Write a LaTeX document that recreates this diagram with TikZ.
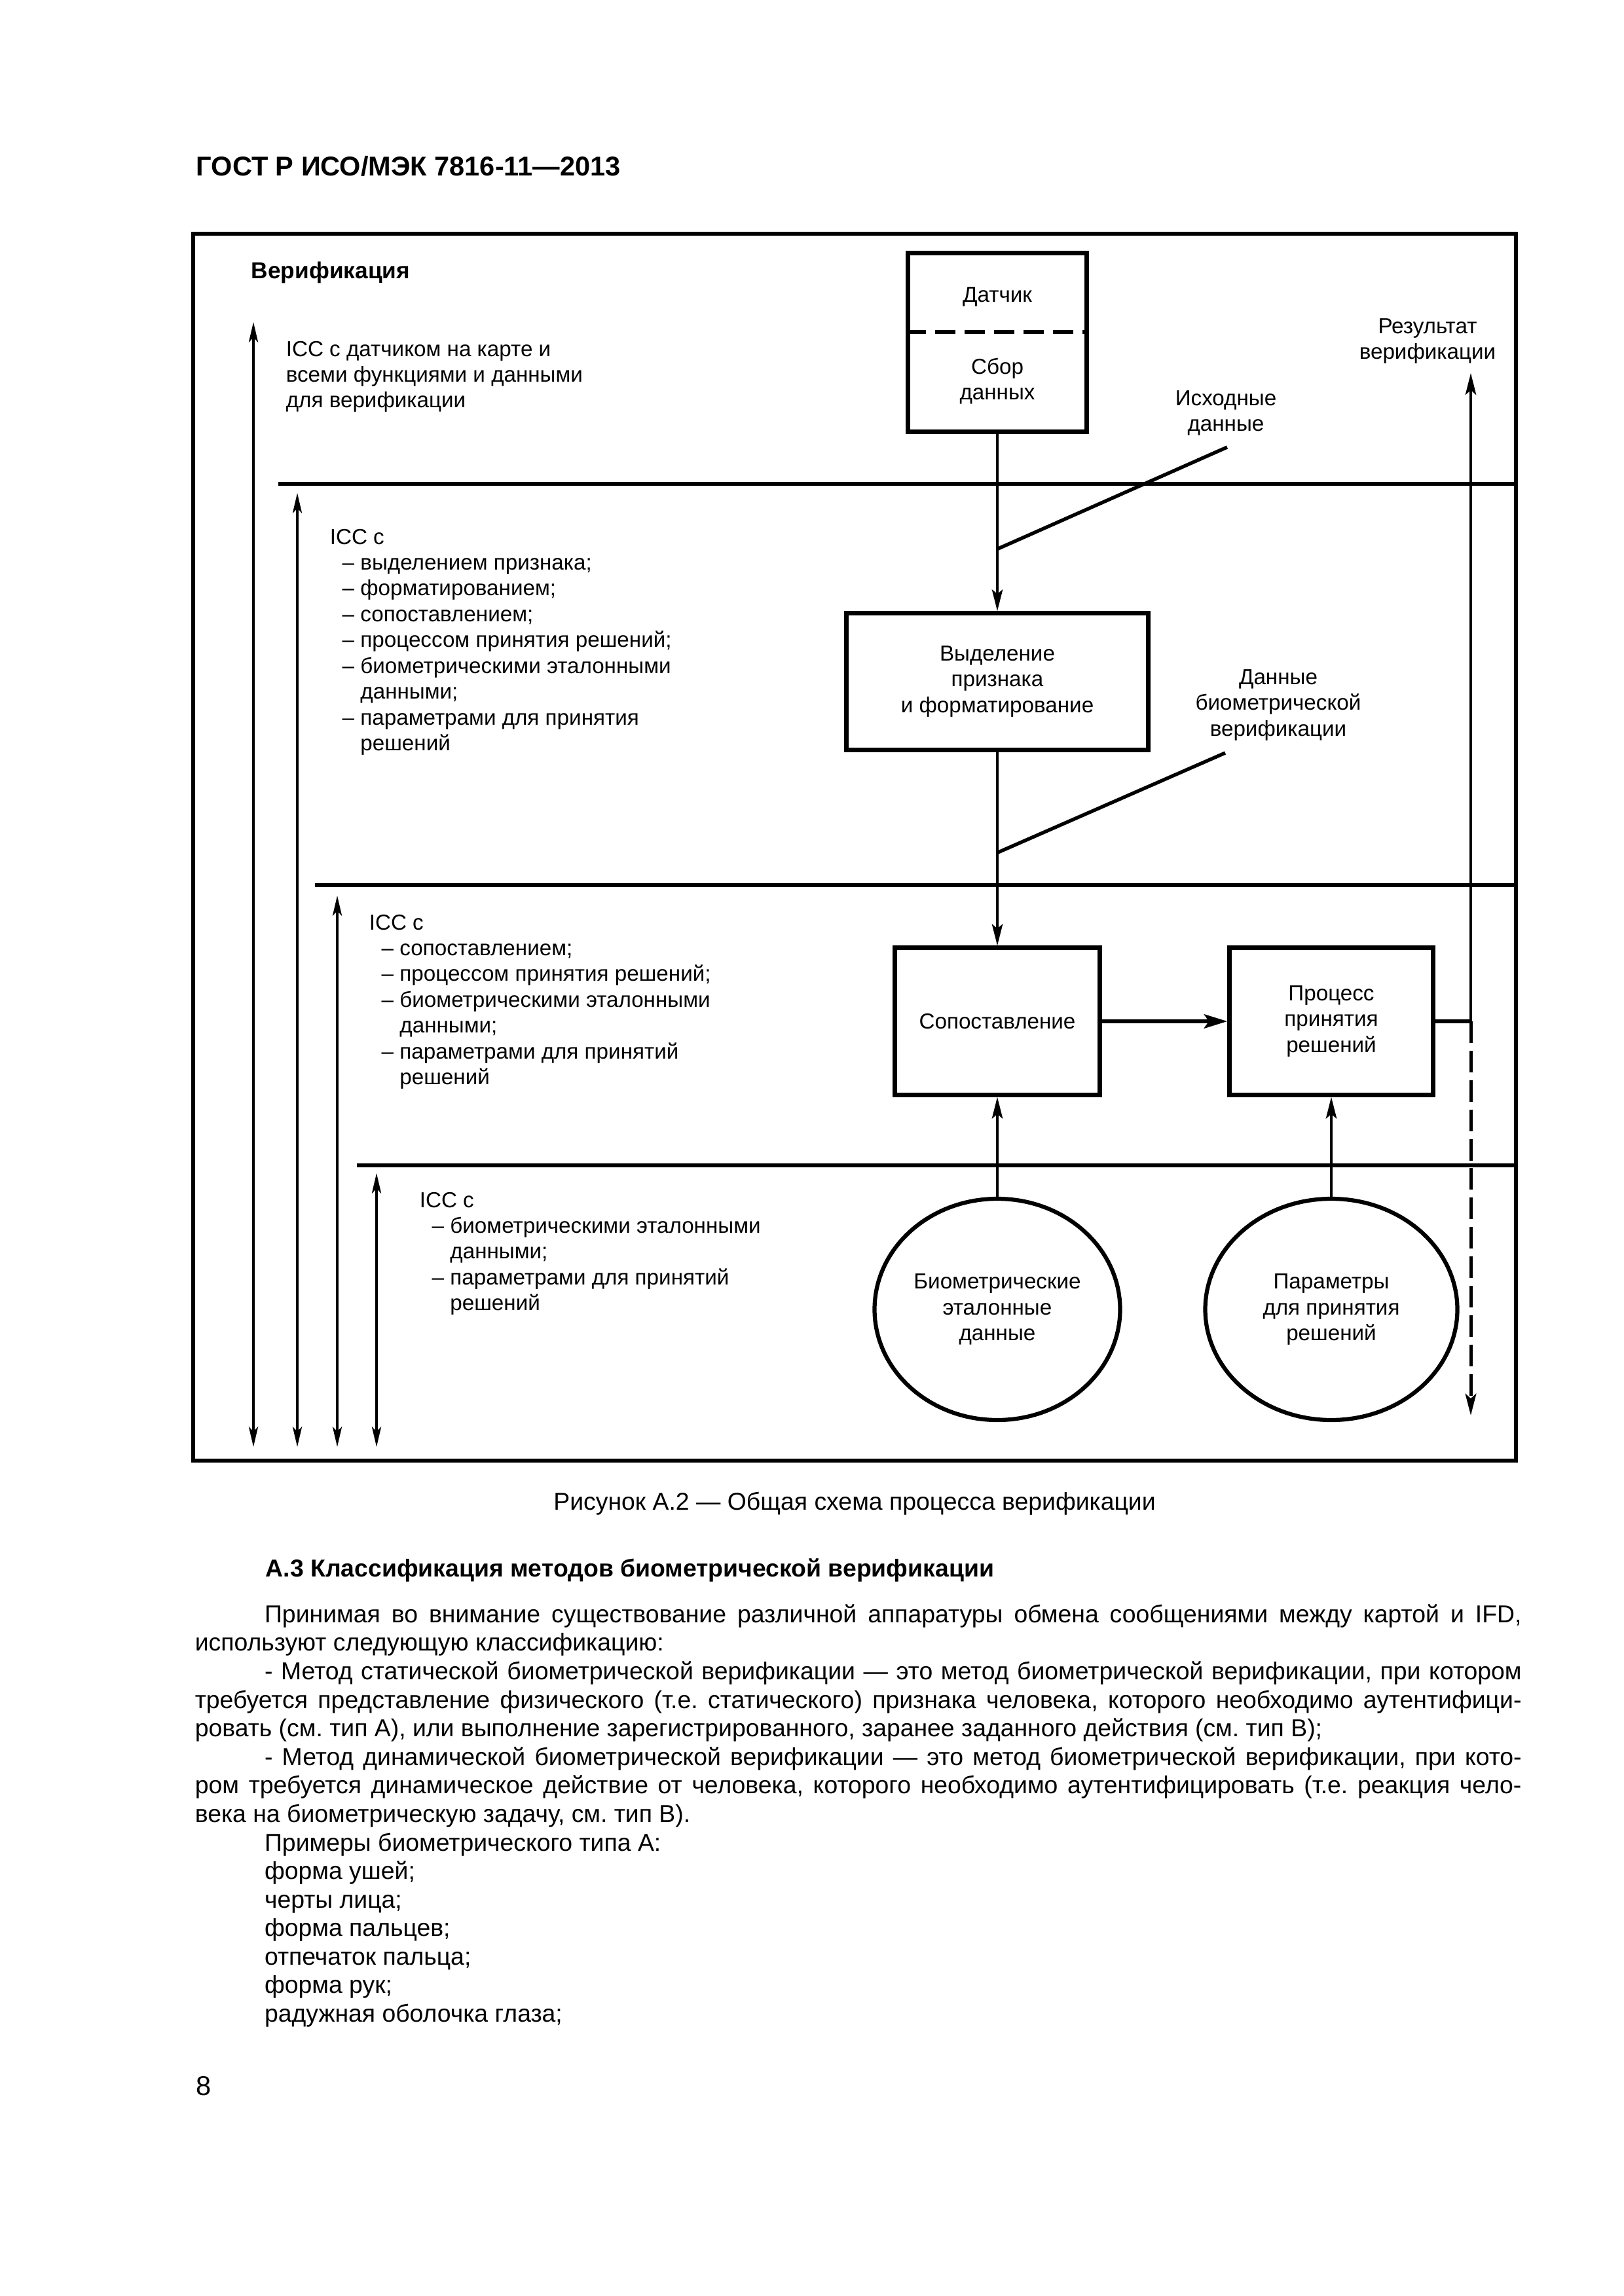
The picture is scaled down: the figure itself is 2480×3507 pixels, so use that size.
\documentclass[tikz,border=0pt]{standalone}
\usepackage{fontspec}
\setmainfont{Liberation Sans}
\usetikzlibrary{arrows.meta,calc,shapes.geometric}
\frenchspacing

% one unit = one pixel of the 300 dpi page
\def\pxu{0.0846667mm}

\tikzset{
  diag/.style={font=\fontsize{8}{9.5}\selectfont},
  box/.style={draw, line width=1.5pt, inner sep=0pt, align=center, diag},
  store/.style={ellipse, draw, line width=1.5pt, inner sep=0pt, align=center, diag},
  lbl/.style={align=center, inner sep=0pt, diag},
  side/.style={align=left, inner sep=0pt, anchor=north west, diag,
    execute at begin node=\strut},
  flow/.style={-{Stealth[length=2.8mm,width=1.4mm,inset=0.6mm]}, line width=0.8pt},
  span/.style={{Stealth[length=2.6mm,width=1.2mm,inset=0.6mm]}-{Stealth[length=2.6mm,width=1.2mm,inset=0.6mm]},
    line width=0.8pt},
  sep/.style={line width=1.6pt},
  feed/.style={line width=1.3pt},
  body/.style={font=\fontsize{9}{10.5}\selectfont, inner sep=0pt},
}

\begin{document}
\begin{tikzpicture}[x=\pxu, y=-\pxu]
  \useasboundingbox (0,0) rectangle (2480,3507);

  \node[body, font=\fontsize{10}{12}\selectfont\bfseries, anchor=base west] (gost) at (299,268)
    {ГОСТ Р ИСО/МЭК 7816-11—2013};

  % frame and levels
  \draw[sep] (295,357) rectangle (2315,2231);
  \draw[sep] (425,739) -- (2315,739);
  \draw[sep] (481,1352) -- (2315,1352);
  \draw[sep] (545,1780) -- (2315,1780);

  \node[diag, font=\fontsize{8.5}{9.5}\selectfont\bfseries, inner sep=0pt, anchor=base west] (title) at (383,425)
    {Верификация};

  % boxes
  \node[box, minimum width={273*\pxu}, minimum height={273*\pxu}] (sensor) at (1523,523) {};
  \draw[line width=1.5pt, dash pattern=on 2.6mm off 1.2mm] (sensor.west |- 0,507) -- (sensor.east |- 0,507);
  \node[lbl] (sensorname) at (1523,453) {Датчик};
  \node[lbl] (collect) at (1523,582) {Сбор\\данных};

  \node[box, minimum width={461*\pxu}, minimum height={209*\pxu}] (feat) at (1523,1041)
    {Выделение\\признака\\и форматирование};
  \node[box, minimum width={313*\pxu}, minimum height={225*\pxu}] (match) at (1523,1560)
    {Сопоставление};
  \node[box, minimum width={311*\pxu}, minimum height={225*\pxu}] (decide) at (2033,1560)
    {Процесс\\принятия\\решений};
  \node[store, minimum width={375*\pxu}, minimum height={338*\pxu}] (bioref) at (1523,2000)
    {Биометрические\\эталонные\\данные};
  \node[store, minimum width={385*\pxu}, minimum height={338*\pxu}] (params) at (2033,2000)
    {Параметры\\для принятия\\решений};

  % labels
  \node[lbl] (rawlbl) at (1872,631) {Исходные\\данные};
  \node[lbl] (verlbl) at (1952,1077) {Данные\\биометрической\\верификации};
  \node[lbl] (result) at (2180,521) {Результат\\верификации};

  \coordinate (rawtip) at (1874,683);
  \coordinate (rawjoin) at ($(sensor.south)!0.65!(feat.north)$);
  \coordinate (vertip) at (1871,1150);
  \coordinate (verjoin) at ($(feat.south)!0.52!(match.north)$);
  \coordinate (outjoin) at (2246,1560);
  \coordinate (resulttip) at (2246,570);
  \coordinate (dropend) at (2246,2162);

  % connectors
  \draw[flow] (sensor.south) -- (feat.north);
  \draw[flow] (feat.south) -- (match.north);
  \draw[feed] (rawtip) -- (rawjoin);
  \draw[feed] (vertip) -- (verjoin);
  \draw[-{Stealth[length=3mm,width=1.8mm,inset=0.6mm]}, line width=1.5pt] (match.east) -- (decide.west);
  \draw[line width=1.5pt] (decide.east) -- (outjoin);
  \draw[flow] (outjoin) -- (resulttip);
  \draw[flow, line width=1.2pt, dash pattern=on 2.8mm off 1mm] (outjoin) -- (dropend);
  \draw[flow] (bioref.north) -- (match.south);
  \draw[flow] (params.north) -- (decide.south);

  % scope arrows
  \foreach \x/\top in {387/492, 454/753, 515/1368, 575/1792}
    \draw[span] (\x,\top) -- (\x,2210);

  % scope texts
  \node[side] (lvlone) at (436,520)
    {ICC с датчиком на карте и\\всеми функциями и данными\\для верификации};
  \node[side] (lvltwo) at (503,807)
    {ICC с\\
     \hspace*{1.6mm}– выделением признака;\\
     \hspace*{1.6mm}– форматированием;\\
     \hspace*{1.6mm}– сопоставлением;\\
     \hspace*{1.6mm}– процессом принятия решений;\\
     \hspace*{1.6mm}– биометрическими эталонными\\
     \hspace*{1.6mm}\phantom{– }данными;\\
     \hspace*{1.6mm}– параметрами для принятия\\
     \hspace*{1.6mm}\phantom{– }решений};
  \node[side] (lvlthree) at (563,1396)
    {ICC с\\
     \hspace*{1.6mm}– сопоставлением;\\
     \hspace*{1.6mm}– процессом принятия решений;\\
     \hspace*{1.6mm}– биометрическими эталонными\\
     \hspace*{1.6mm}\phantom{– }данными;\\
     \hspace*{1.6mm}– параметрами для принятий\\
     \hspace*{1.6mm}\phantom{– }решений};
  \node[side] (lvlfour) at (640,1820)
    {ICC с\\
     \hspace*{1.6mm}– биометрическими эталонными\\
     \hspace*{1.6mm}\phantom{– }данными;\\
     \hspace*{1.6mm}– параметрами для принятий\\
     \hspace*{1.6mm}\phantom{– }решений};

  % caption and page text
  \node[body, anchor=base] (caption) at (1305,2306)
    {Рисунок А.2 — Общая схема процесса верификации};
  \node[body, font=\fontsize{9}{10.5}\selectfont\bfseries, anchor=base west] (sect) at (405,2408)
    {А.3 Классификация методов биометрической верификации};
  \node[body, anchor=north west, text width=171.5mm, align=justify] (text) at (297,2447)
    {\noindent\strut\hspace*{9mm}Принимая во внимание существование различной аппаратуры обмена сообщениями между картой и IFD,\linebreak
     используют следующую классификацию:\par
     \noindent\hspace*{9mm}- Метод статической биометрической верификации — это метод биометрической верификации, при котором\linebreak
     требуется представление физического (т.е. статического) признака человека, которого необходимо аутентифици-\linebreak
     ровать (см. тип А), или выполнение зарегистрированного, заранее заданного действия (см. тип В);\par
     \noindent\hspace*{9mm}- Метод динамической биометрической верификации — это метод биометрической верификации, при кото-\linebreak
     ром требуется динамическое действие от человека, которого необходимо аутентифицировать (т.е. реакция чело-\linebreak
     века на биометрическую задачу, см. тип В).\par
     \noindent\hspace*{9mm}Примеры биометрического типа А:\par
     \noindent\hspace*{9mm}форма ушей;\par
     \noindent\hspace*{9mm}черты лица;\par
     \noindent\hspace*{9mm}форма пальцев;\par
     \noindent\hspace*{9mm}отпечаток пальца;\par
     \noindent\hspace*{9mm}форма рук;\par
     \noindent\hspace*{9mm}радужная оболочка глаза;\par};
  \node[body, font=\fontsize{10}{12}\selectfont, anchor=base west] (pageno) at (299,3200) {8};
\end{tikzpicture}
\end{document}
